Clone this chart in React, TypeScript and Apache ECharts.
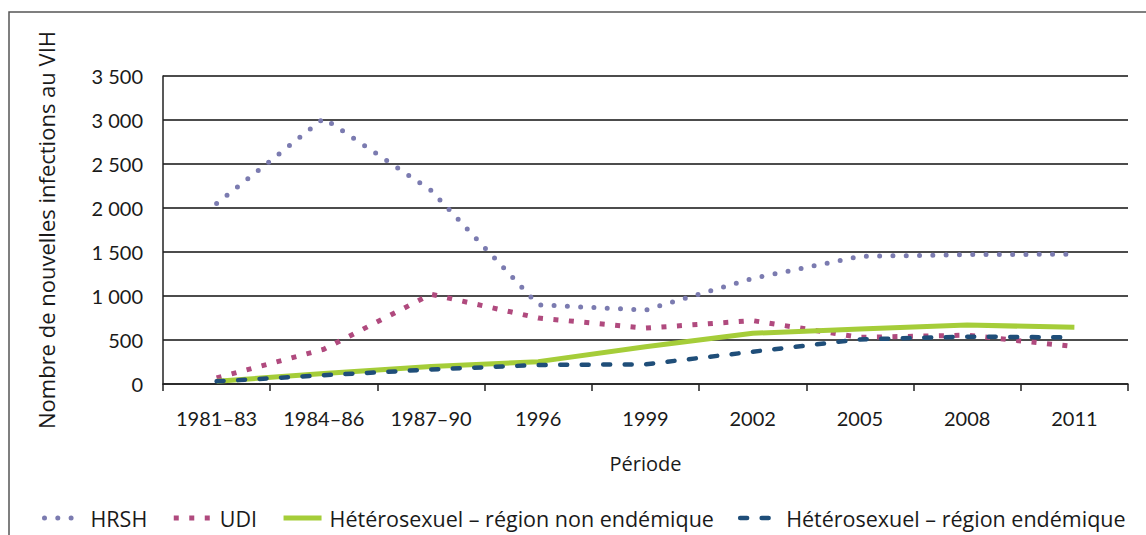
import React, { useEffect, useRef } from "react";
import * as echarts from "echarts";

const categories = ["1981–83", "1984–86", "1987–90", "1996", "1999", "2002", "2005", "2008", "2011"];
const hrsh = [2050, 3020, 2200, 900, 840, 1200, 1450, 1470, 1475];
const udi = [70, 395, 1020, 750, 635, 720, 530, 555, 425];
const heteroNonEndemic = [30, 120, 200, 254, 424, 576, 625, 670, 644];
const heteroEndemic = [30, 100, 165, 216, 224, 367, 507, 538, 530];

const NUM_FONT = "Lato";
const TXT_FONT = "Open Sans";

const HRSH_STYLE = { color: "#7b7bb0", width: 5, type: [0, 13.3], cap: "round" };
const UDI_STYLE = { color: "#b04a7e", width: 5, type: [5, 10.5], cap: "butt" };
const NE_STYLE = { color: "#a5cd39", width: 5, type: "solid", cap: "butt" };
const E_STYLE = { color: "#1f4e79", width: 4.5, type: [7, 14.5], cap: "round" };

export default function App() {
  const ref = useRef<HTMLDivElement>(null);
  useEffect(() => {
    if (!ref.current) return;
    const chart = echarts.init(ref.current, null, { renderer: "svg" });
    chart.setOption({
      animation: false,
      textStyle: { fontFamily: TXT_FONT, color: "#1a1a1a" },
      grid: { left: 163, right: 18, top: 76, bottom: 151 },
      graphic: [
        {
          type: "rect",
          shape: { x: 9, y: 12, width: 1200, height: 600 },
          style: { fill: "none", stroke: "#555", lineWidth: 1.5 },
          silent: true,
        },
      ],
      legend: {
        left: 37,
        top: 502,
        itemWidth: 38,
        itemHeight: 14,
        itemGap: 24,
        itemStyle: { opacity: 0 },
        textStyle: { fontFamily: TXT_FONT, fontSize: 21.5, color: "#1a1a1a", padding: [0, 0, 0, 3] },
        data: [
          { name: "HRSH", lineStyle: HRSH_STYLE },
          { name: "UDI", lineStyle: UDI_STYLE },
          { name: "Hétérosexuel – région non endémique", lineStyle: NE_STYLE },
          { name: "Hétérosexuel – région endémique", lineStyle: E_STYLE },
        ],
      },
      xAxis: {
        type: "category",
        data: categories,
        boundaryGap: true,
        name: "Période",
        nameLocation: "middle",
        nameGap: 69,
        nameTextStyle: { fontFamily: TXT_FONT, fontSize: 20, color: "#1a1a1a" },
        axisLine: { lineStyle: { color: "#222", width: 1.5 } },
        axisTick: { show: true, length: 7, lineStyle: { color: "#222", width: 1.5 } },
        axisLabel: { fontFamily: NUM_FONT, fontSize: 20, color: "#1a1a1a", margin: 24 },
      },
      yAxis: {
        type: "value",
        min: 0,
        max: 3500,
        interval: 500,
        name: "Nombre de nouvelles infections au VIH",
        nameLocation: "middle",
        nameGap: 106,
        nameRotate: 90,
        nameTextStyle: { fontFamily: TXT_FONT, fontSize: 22, color: "#1a1a1a" },
        axisLine: { show: true, lineStyle: { color: "#222", width: 1.5 } },
        axisTick: { show: false },
        axisLabel: {
          fontFamily: NUM_FONT,
          fontSize: 20,
          color: "#1a1a1a",
          margin: 20,
          formatter: (v: number) => String(v).replace(/\B(?=(\d{3})+(?!\d))/g, " "),
        },
        splitLine: { lineStyle: { color: "#111", width: 1.5 } },
      },
      series: [
        {
          name: "HRSH",
          type: "line",
          data: hrsh,
          symbol: "none",
          lineStyle: HRSH_STYLE,
          itemStyle: { color: HRSH_STYLE.color },
        },
        {
          name: "UDI",
          type: "line",
          data: udi,
          symbol: "none",
          lineStyle: UDI_STYLE,
          itemStyle: { color: UDI_STYLE.color },
        },
        {
          name: "Hétérosexuel – région non endémique",
          type: "line",
          data: heteroNonEndemic,
          symbol: "none",
          lineStyle: NE_STYLE,
          itemStyle: { color: NE_STYLE.color },
        },
        {
          name: "Hétérosexuel – région endémique",
          type: "line",
          data: heteroEndemic,
          symbol: "none",
          lineStyle: E_STYLE,
          itemStyle: { color: E_STYLE.color },
        },
      ],
    });
    return () => chart.dispose();
  }, []);
  return (
    <div
      ref={ref}
      style={{ position: "fixed", left: 0, top: 0, width: 1146, height: 535, background: "#fff" }}
    />
  );
}
